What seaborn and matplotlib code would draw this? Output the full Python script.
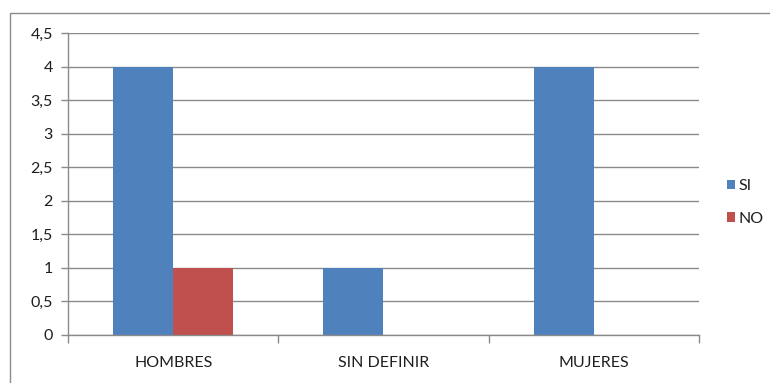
import matplotlib
matplotlib.use("Agg")
import matplotlib.pyplot as plt
from matplotlib.patches import Rectangle, Patch
from matplotlib.ticker import FuncFormatter, FixedLocator
import seaborn as sns
import pandas as pd

# Data
categories = ["HOMBRES", "SIN DEFINIR", "MUJERES"]
si_values = [4, 1, 4]
no_values = [1, 0, 0]
series_names = ["SI", "NO"]
colors = ["#4F81BD", "#C0504D"]
y_ticks = [0, 0.5, 1, 1.5, 2, 2.5, 3, 3.5, 4, 4.5]

df = pd.DataFrame({
    "categoria": categories * 2,
    "serie": [series_names[0]] * 3 + [series_names[1]] * 3,
    "valor": si_values + no_values,
})

sns.set_theme(style="white")
plt.rcParams["font.family"] = ["Lato", "DejaVu Sans"]

W, H = 770, 383
fig = plt.figure(figsize=(W / 100, H / 100), dpi=100)
fig.patch.set_facecolor("white")

# Outer chart frame
fig.patches.append(Rectangle((10 / W, -0.05), 1.0, 1 - 13 / H + 0.05,
                             transform=fig.transFigure, fill=False,
                             edgecolor="#8c8c8c", linewidth=1.0))

left, right, bottom, top = 68 / W, 699 / W, 1 - 335 / H, 1 - 33 / H
ax = fig.add_axes([left, bottom, right - left, top - bottom])

sns.barplot(data=df, x="categoria", y="valor", hue="serie",
            palette=colors, width=0.572, gap=0, saturation=1,
            edgecolor="none", linewidth=0, legend=False, ax=ax)

ax.set_xlim(-0.5, 2.5)
ax.set_ylim(0, 4.5)
ax.set_yticks(y_ticks)
ax.yaxis.set_major_formatter(FuncFormatter(
    lambda v, p: (f"{v:g}").replace(".", ",")))
ax.yaxis.grid(True, color="#8a8a8a", linewidth=1.0)
ax.set_axisbelow(True)

ax.set_xlabel("")
ax.set_ylabel("")
ax.set_xticks(range(len(categories)))
ax.set_xticklabels(categories)
ax.xaxis.set_minor_locator(FixedLocator([-0.5, 0.5, 1.5, 2.5]))
ax.tick_params(axis="x", which="major", length=0, pad=15,
               labelsize=11.5, labelcolor="#1e1e1e")
ax.tick_params(axis="x", which="minor", length=6, width=1,
               color="#8a8a8a", direction="out", bottom=True)
ax.tick_params(axis="y", length=5, width=1, color="#8a8a8a",
               direction="out", left=True, pad=6,
               labelsize=11.5, labelcolor="#1e1e1e")

for s in ["top", "right"]:
    ax.spines[s].set_visible(False)
for s in ["left", "bottom"]:
    ax.spines[s].set_color("#8a8a8a")
    ax.spines[s].set_linewidth(1.0)

handles = [Patch(facecolor=c, edgecolor="none") for c in colors]
fig.legend(handles, series_names, loc="center left",
           bbox_to_anchor=(727 / W, 1 - 202.5 / H), frameon=False,
           borderpad=0, borderaxespad=0,
           handlelength=0.5, handleheight=0.5, handletextpad=0.25,
           labelspacing=1.15, fontsize=11.5, labelcolor="#1e1e1e")

fig.savefig("out.png", dpi=100, facecolor="white")
